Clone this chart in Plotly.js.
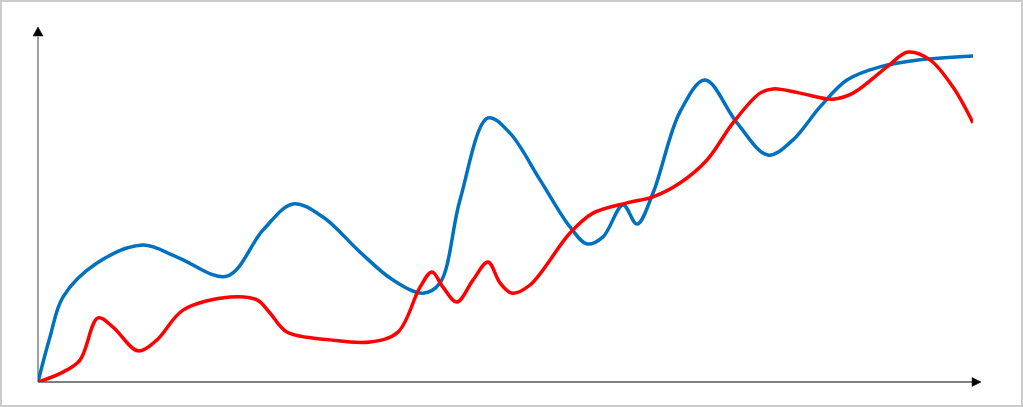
<!DOCTYPE html>
<html>
<head>
<meta charset="utf-8">
<script src="https://cdn.plot.ly/plotly-3.0.1.min.js"></script>
<style>
html,body{margin:0;padding:0;background:#fff;}
#frame{width:1023px;height:407px;box-sizing:border-box;border:2px solid #cccccc;background:#fff;}
#chart{width:1019px;height:403px;}
</style>
</head>
<body>
<div id="frame"><div id="chart"></div></div>
<script>
const blueX = [0, 1.28, 2.67, 6.31, 11.23, 14.87, 20.21, 24.06, 27.27, 30.48, 34.44, 37.97, 41.18, 43.0, 45.13, 48.13, 50.48, 53.69, 56.9, 58.72, 60.43, 62.57, 64.06, 65.78, 68.66, 71.34, 74.76, 78.07, 80.75, 83.64, 86.52, 90.05, 94.33, 100];
const blueY = [0, 12.7, 24.0, 33.6, 38.7, 35.3, 29.9, 42.9, 50.3, 46.6, 36.7, 28.8, 25.1, 28.0, 51.4, 74.6, 70.3, 57.1, 43.8, 39.0, 41.0, 50.0, 44.6, 53.4, 76.3, 85.3, 73.2, 64.1, 68.4, 77.7, 85.3, 89.0, 91.0, 92.1];

const redX = [0, 2.67, 4.49, 6.42, 8.02, 10.7, 12.73, 15.51, 20.53, 23.42, 24.81, 26.63, 31.23, 35.51, 38.5, 40.86, 42.14, 43.32, 44.81, 46.52, 48.13, 49.41, 50.7, 52.62, 56.9, 59.36, 63.0, 65.78, 68.66, 71.55, 74.33, 77.22, 78.61, 81.5, 85.03, 87.17, 90.8, 93.05, 95.4, 97.86, 100];
const redY = [0, 2.8, 6.2, 18.1, 15.5, 8.8, 11.9, 20.3, 24.0, 23.2, 19.5, 14.1, 11.9, 11.3, 14.1, 26.8, 31.1, 26.8, 22.6, 28.8, 33.9, 28.0, 25.1, 27.4, 42.1, 47.7, 50.6, 52.3, 56.2, 62.7, 73.2, 81.6, 82.8, 81.6, 79.9, 81.6, 89.0, 93.2, 91.0, 83.3, 73.2];

const traces = [
  {x: blueX, y: blueY, type: 'scatter', mode: 'lines', line: {color: '#0070C0', width: 3.5, shape: 'spline', smoothing: 1}, hoverinfo: 'skip'},
  {x: redX, y: redY, type: 'scatter', mode: 'lines', line: {color: '#FF0000', width: 3.5, shape: 'spline', smoothing: 1}, hoverinfo: 'skip'}
];

const axisColor = '#808080';
const layout = {
  width: 1019, height: 403,
  margin: {l: 36, r: 48, t: 26, b: 23, pad: 0},
  paper_bgcolor: '#ffffff', plot_bgcolor: 'rgba(0,0,0,0)',
  showlegend: false,
  xaxis: {range: [0, 100], showgrid: false, zeroline: false, showline: false, showticklabels: false, ticks: '', fixedrange: true},
  yaxis: {range: [0, 100], showgrid: false, zeroline: false, showline: false, showticklabels: false, ticks: '', fixedrange: true},
  shapes: [
    {type: 'line', xref: 'paper', yref: 'paper', x0: 0, y0: 0, x1: 0.999, y1: 0, line: {color: axisColor, width: 2}, layer: 'below'},
    {type: 'line', xref: 'paper', yref: 'paper', x0: 0, y0: 0, x1: 0, y1: 0.975, line: {color: axisColor, width: 1.5}, layer: 'below'},
    {type: 'path', xref: 'paper', yref: 'paper', xsizemode: 'pixel', ysizemode: 'pixel', xanchor: 1.0086, yanchor: 0,
     path: 'M 0 0 L -9 4.5 L -9 -4.5 Z', fillcolor: '#000000', line: {color: '#000000', width: 0.5}},
    {type: 'path', xref: 'paper', yref: 'paper', xsizemode: 'pixel', ysizemode: 'pixel', xanchor: 0, yanchor: 1.0028,
     path: 'M 0 0 L -5 -9 L 5 -9 Z', fillcolor: '#000000', line: {color: '#000000', width: 0.5}}
  ]
};

Plotly.newPlot('chart', traces, layout, {displayModeBar: false, staticPlot: true});
</script>
</body>
</html>
